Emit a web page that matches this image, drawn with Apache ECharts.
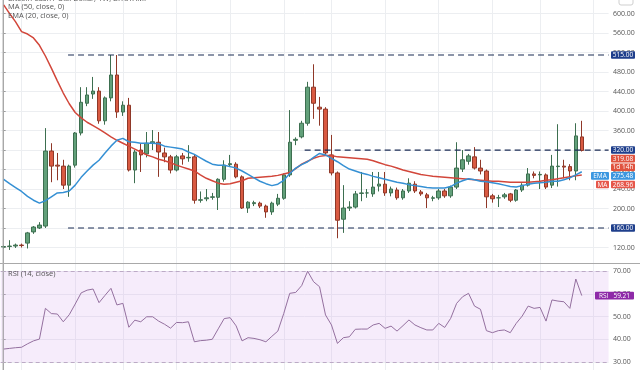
<!DOCTYPE html>
<html><head><meta charset="utf-8">
<script src="https://cdn.jsdelivr.net/npm/echarts@6/dist/echarts.min.js"></script>
<style>html,body{margin:0;padding:0;background:#fff}#c{width:640px;height:370px}</style>
</head><body><div id="c"></div>
<script>
// ---- data (weekly candles) ----
const opens = [121,122,123,125,129,152,160,164,318,289,
287,248,289,355,416,435,441,380,427,474,
398,412,279,320,312,334,336,314,306,279,
308,304,306,217,220,223,223,260,290,291,
265,201,210,211,205,193,209,221,269,340,
347,375,449,408,404,310,273,178,201,203,
231,232,230,246,250,232,238,222,236,250,
234,228,221,222,236,226,244,281,297,306,
283,277,226,222,224,230,217,238,248,271,
269,269,248,286,287,286,277,347];
const closes = [122,123,125,124,150,162,166,318,287,287,
248,287,355,418,433,441,380,427,474,398,
412,279,316,310,334,337,316,306,279,306,
302,305,217,218,222,224,260,289,292,265,
201,213,212,205,193,211,221,269,336,342,
375,449,416,404,314,273,176,201,203,230,
232,232,244,250,232,240,222,236,252,236,
230,222,222,236,226,244,283,300,308,283,
277,224,220,222,228,217,238,248,271,268,
270,244,287,287,285,277,349,319.08];
const lows = [118,115,119,120,118,148,158,160,254,258,
240,224,284,350,410,425,374,372,420,386,
390,276,252,275,305,320,265,295,272,276,
290,296,210,212,215,218,197,255,285,262,
199,191,205,201,181,187,205,218,265,330,
344,370,384,370,310,268,139,150,195,200,
215,222,224,235,226,225,218,218,232,232,
226,201,215,218,222,222,240,275,290,280,
270,201,212,203,220,213,214,234,245,262,
240,240,242,245,262,258,258,317];
const highs = [124,135,128,128,152,164,172,365,334,314,
300,290,357,449,449,470,449,430,515,515,
420,427,320,334,357,361,357,325,310,310,
314,330,310,235,240,232,262,299,310,295,
268,215,216,214,208,214,230,272,402,346,
380,460,496,429,408,351,276,248,215,236,
275,240,275,275,275,245,243,240,262,256,
238,232,226,240,240,247,336,320,312,326,
300,280,230,228,232,232,240,252,283,276,
276,272,310,373,300,291,375,380];
const ma50 = [618,600,583,563,558,550,535,513,488,462,
437,415,397,386,377,370,363,355,347,340,
334,328,322,316,310,306,301,298,294,289,
285,281,277,269,262,257,252,250,251,254,
257,262,263,264,265,266,268,271,274,282,
291,297,303,307,309,309,306,305,304,303,
302,301,298,294,290,287,283,279,276,273,
270,268,266,265,264,263,262,261,260,259,
258,257,256,256,255,254,254,254,254,255,
256,258,259,261,263,265,267,268.96];
const ema20 = [260,251,243,235,225,217,211,216,224,232,
233,236,248,264,277,289,299,314,328,340,
344,337,336,334,334,334,333,328,326,324,
322,316,311,304,297,291,289,289,286,283,
277,270,263,256,251,247,250,258,272,283,
290,296,305,313,310,303,296,288,281,277,
273,270,266,263,260,257,254,252,249,247,
245,243,242,242,242,245,252,257,261,259,
256,255,253,251,248,245,244,247,250,252,
253,254,256,256,259,263,269,275.48];
const rsi14 = [35.7,36.0,36.3,36.5,38.0,39.3,40.1,53.6,51.3,51.1,
47.7,50.8,55.5,60.4,61.6,62.1,56.1,59.3,62.4,55.1,
55.8,45.3,48.4,47.7,49.9,49.9,48.0,46.6,44.9,47.4,
47.3,47.7,38.9,39.4,39.6,40.0,44.6,49.1,49.5,45.9,
39.3,40.7,40.4,39.8,38.9,41.3,43.6,51.4,60.2,60.6,
63.6,69.9,65.3,63.1,50.7,46.3,38.2,40.7,41.1,44.4,
44.5,44.5,46.3,47.0,44.8,45.8,43.6,46.0,48.5,46.3,
45.1,44.1,44.1,47.0,45.2,49.2,55.8,58.7,60.2,54.6,
53.2,43.8,42.9,43.8,44.1,42.9,47.0,50.2,54.6,53.6,
54.0,48.0,57.3,56.8,56.5,53.6,66.5,59.21];
const priceTicks = [120,160,200,240,280,320,360,400,440,480,520,560,600];
const rsiTicks = [30,40,50,60,70];
const monthIdx = [3,12,20,29,38,47,55,64,73,82,90,99];
const levels = [515, 320, 160];
const levelStart = [10.8, 50.5, 10.8];
const N = 102; // weeks shown incl. right margin
const countdown = '1d 14h';

const cats = []; for (let i = 0; i < N; i++) cats.push('W' + i);
const candles = opens.map((o, i) => [o, closes[i], lows[i], highs[i]]);

const FONT = '"Open Sans", sans-serif';
const chart = echarts.init(document.getElementById('c'), null, {renderer: 'canvas'});
const grid = (top, height) => ({left: 0.7, right: 31.4, top: top, height: height});
const hiddenCat = gi => ({type: 'category', gridIndex: gi, data: cats, boundaryGap: true,
  axisLine: {show: false}, axisTick: {show: false}, axisLabel: {show: false}, splitLine: {show: false}});
const vGrid = gi => ({type: 'value', gridIndex: gi, min: -0.5, max: N - 0.5,
  axisLine: {show: false}, axisTick: {show: false, customValues: monthIdx},
  axisLabel: {show: false, customValues: monthIdx},
  splitLine: {show: true, lineStyle: {color: '#eceef1', width: 1}}});
const yAx = (gi, min, max, ticks) => ({type: 'value', gridIndex: gi, position: 'right', offset: 1.4,
  min: min, max: max,
  axisLine: {show: true, lineStyle: {color: '#9a9a9a'}},
  axisTick: {show: true, length: 2, customValues: ticks, lineStyle: {color: '#9a9a9a'}},
  axisLabel: {customValues: ticks, formatter: v => v.toFixed(2), fontSize: 7, color: '#555', margin: 3, fontFamily: FONT},
  splitLine: {show: true, lineStyle: {color: '#eceef1'}}});

const series = [
  {type: 'candlestick', xAxisIndex: 0, yAxisIndex: 0, data: candles, barWidth: 4,
   itemStyle: {color: '#62a07a', color0: '#d95a42', borderColor: '#3d6f50', borderColor0: '#8f3828', borderWidth: 1}},
  {type: 'line', xAxisIndex: 0, yAxisIndex: 0, data: ma50, symbol: 'none', smooth: false,
   lineStyle: {color: '#d2463a', width: 1.5}, z: 3},
  {type: 'line', xAxisIndex: 0, yAxisIndex: 0, data: ema20, symbol: 'none', smooth: false,
   lineStyle: {color: '#3590d4', width: 1.5}, z: 3}
];
levels.forEach((lv, i) => series.push({type: 'line', xAxisIndex: 1, yAxisIndex: 0,
  data: [[levelStart[i], lv], [N - 0.5, lv]], symbol: 'none',
  lineStyle: {color: '#1b2c55', width: 1.2, type: [6, 4]}, z: 4}));
series.push({type: 'line', xAxisIndex: 2, yAxisIndex: 1, data: rsi14, symbol: 'none',
  lineStyle: {color: '#94709f', width: 1}, z: 3,
  markArea: {silent: true, itemStyle: {color: 'rgba(214,170,238,0.22)'}, data: [[{yAxis: 30}, {yAxis: 70}]]},
  markLine: {silent: true, symbol: 'none', label: {show: false},
    lineStyle: {color: '#bcaac6', type: [4, 3], width: 1}, data: [{yAxis: 70}, {yAxis: 30}]}});

chart.setOption({
  animation: false,
  backgroundColor: '#ffffff',
  grid: [grid(0, 263), grid(264, 106)],
  xAxis: [hiddenCat(0), vGrid(0), hiddenCat(1), vGrid(1)],
  yAxis: [yAx(0, 88.2, 627.9, priceTicks), yAx(1, 26.5, 73.1, rsiTicks)],
  series: series
});

// ---- overlay labels placed through the axes' own scales ----
const els = [];
const rightX = chart.convertToPixel({xAxisIndex: 1}, N - 0.5) + 1.4;
const leftX = chart.convertToPixel({xAxisIndex: 1}, -0.5);
const pyP = v => chart.convertToPixel({yAxisIndex: 0}, v);
const pyR = v => chart.convertToPixel({yAxisIndex: 1}, v);
function box(x, yc, w, text, bg, fg) {
  els.push({type: 'rect', z: 100, shape: {x: x, y: yc - 3.8, width: w, height: 7.6, r: 1}, style: {fill: bg}});
  els.push({type: 'text', z: 101, style: {text: text, x: x + w / 2, y: yc + 0.3, align: 'center', verticalAlign: 'middle',
    fill: fg || '#fff', font: '6.5px ' + FONT}});
}
const bottomMain = pyP(88.2);
els.push({type: 'line', z: 90, shape: {x1: 0, y1: bottomMain + 0.5, x2: 640, y2: bottomMain + 0.5}, style: {stroke: '#a9a9a9', lineWidth: 1}});
els.push({type: 'line', z: 90, shape: {x1: leftX + 2.3, y1: 0, x2: leftX + 2.3, y2: 370}, style: {stroke: '#b5b5b5', lineWidth: 1}});
// stacked right-hand value labels
const stack = [
  {v: 320, t: '320.00', bg: '#1f3f8c'},
  {v: closes[closes.length - 1], t: closes[closes.length - 1].toFixed(2), bg: '#e0533f'},
  {v: null, t: countdown, bg: '#e0533f'},
  {v: ema20[ema20.length - 1], t: ema20[ema20.length - 1].toFixed(2), bg: '#3b97e0', tag: 'EMA'},
  {v: ma50[ma50.length - 1], t: ma50[ma50.length - 1].toFixed(2), bg: '#e6574a', tag: 'MA'}
];
let prevY = -100;
stack.forEach(s => {
  let y = s.v == null ? prevY + 8.6 : Math.max(pyP(s.v), prevY + 8.6);
  box(rightX + 1, y, 24, s.t, s.bg);
  if (s.tag) box(rightX - 1 - (s.tag.length * 5 + 3), y, s.tag.length * 5 + 3, s.tag, s.bg);
  prevY = y;
});
box(rightX + 1, pyP(515), 24, '515.00', '#1f3f8c');
box(rightX + 1, pyP(160), 24, '160.00', '#1f3f8c');
const lastR = rsi14[rsi14.length - 1];
box(rightX - 15, pyR(lastR), 39, 'RSI   ' + lastR.toFixed(2), '#8e2aa8');
// legend texts
const tstyle = (t, y) => ({type: 'text', z: 100, style: {text: t, x: 8, y: y, verticalAlign: 'middle', fill: '#555', font: '7.5px ' + FONT}});
els.push(tstyle('Bitcoin Cash / U.S. Dollar, 1W, BITSTAMP', -1.5));
els.push(tstyle('MA (50, close, 0)', 6.5));
els.push(tstyle('EMA (20, close, 0)', 15.5));
els.push(tstyle('RSI (14, close)', pyP(88.2) + 11));
els.push({type: 'rect', z: 100, shape: {x: rightX + 9, y: -3, width: 14, height: 8, r: 2}, style: {fill: '#fff', stroke: '#cfcfcf', lineWidth: 1}});
chart.setOption({graphic: els});
</script></body></html>
